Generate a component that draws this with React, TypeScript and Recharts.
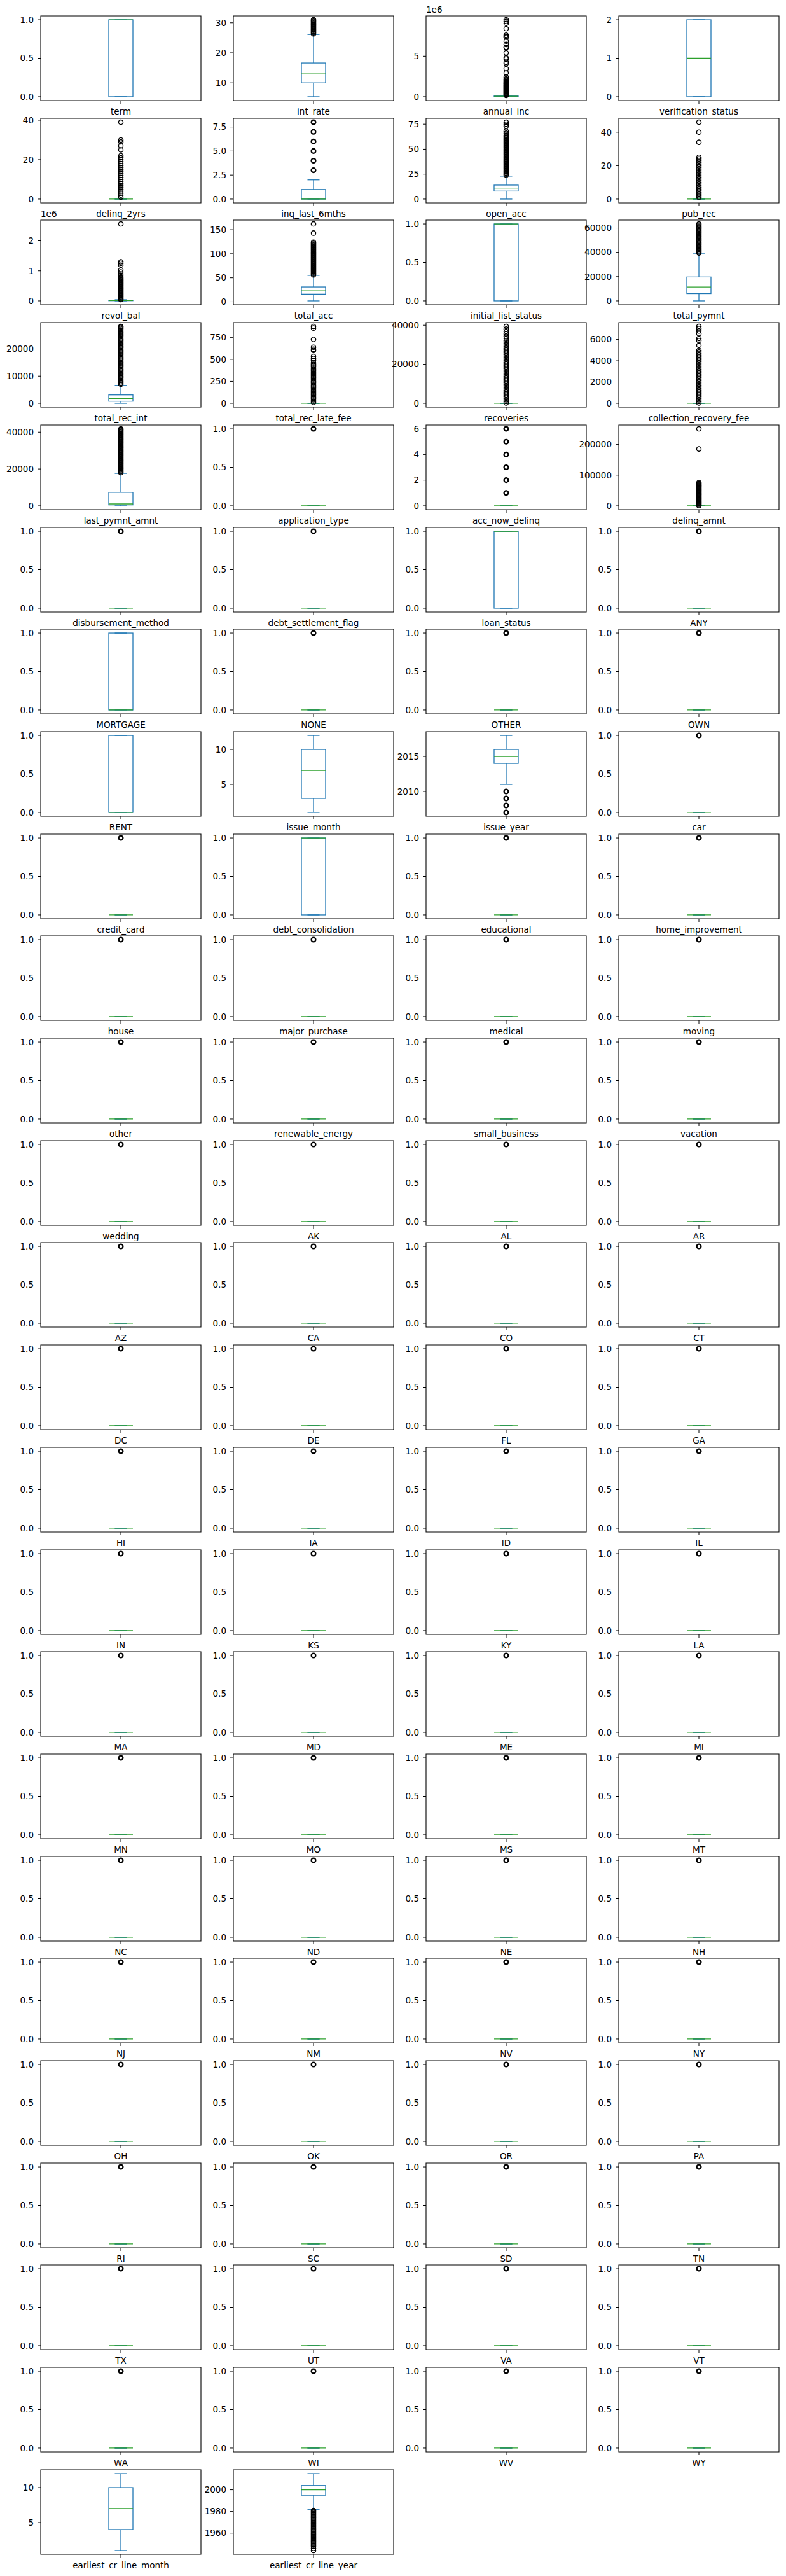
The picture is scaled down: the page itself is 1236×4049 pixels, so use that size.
import React from 'react';
import { ComposedChart, Bar, Scatter, XAxis, YAxis, ReferenceArea } from 'recharts';

// ---------------- DATA ----------------
const names = [
  'term', 'int_rate', 'annual_inc', 'verification_status',
  'delinq_2yrs', 'inq_last_6mths', 'open_acc', 'pub_rec',
  'revol_bal', 'total_acc', 'initial_list_status', 'total_pymnt',
  'total_rec_int', 'total_rec_late_fee', 'recoveries', 'collection_recovery_fee',
  'last_pymnt_amnt', 'application_type', 'acc_now_delinq', 'delinq_amnt',
  'disbursement_method', 'debt_settlement_flag', 'loan_status', 'ANY',
  'MORTGAGE', 'NONE', 'OTHER', 'OWN',
  'RENT', 'issue_month', 'issue_year', 'car',
  'credit_card', 'debt_consolidation', 'educational', 'home_improvement',
  'house', 'major_purchase', 'medical', 'moving',
  'other', 'renewable_energy', 'small_business', 'vacation',
  'wedding', 'AK', 'AL', 'AR',
  'AZ', 'CA', 'CO', 'CT',
  'DC', 'DE', 'FL', 'GA',
  'HI', 'IA', 'ID', 'IL',
  'IN', 'KS', 'KY', 'LA',
  'MA', 'MD', 'ME', 'MI',
  'MN', 'MO', 'MS', 'MT',
  'NC', 'ND', 'NE', 'NH',
  'NJ', 'NM', 'NV', 'NY',
  'OH', 'OK', 'OR', 'PA',
  'RI', 'SC', 'SD', 'TN',
  'TX', 'UT', 'VA', 'VT',
  'WA', 'WI', 'WV', 'WY',
  'earliest_cr_line_month', 'earliest_cr_line_year',
];

// box stats: [lower whisker, Q1, median, Q3, upper whisker]
const rareBox = [0, 0, 0, 0, 0];
const rareOut = [1];
const unitTicks = [0, 0.5, 1];

const termBox = [0, 0, 1, 1, 1];
const intRateBox = [5.4, 10.0, 13.0, 16.6, 26.1];
const intRateOut = [26.3, 26.6, 26.9, 27.2, 27.5, 27.8, 28.1, 28.4, 28.7, 29.0, 29.3, 29.6, 29.9, 30.2, 30.5, 30.8, 31.0];
const annualIncBox = [0, 45000, 65000, 90000, 157000];
const annualIncOut = [160000, 230000, 300000, 370000, 440000, 510000, 580000, 650000, 720000, 790000, 860000, 930000, 1000000, 1070000, 1140000, 1210000, 1280000, 1350000, 1420000, 1500000, 1580000, 1650000, 1730000, 1800000, 1900000, 2000000, 2100000, 2200000, 2420000, 2940000, 3460000, 4100000, 4250000, 4650000, 4800000, 5420000, 6050000, 6100000, 6450000, 6850000, 7350000, 7450000, 7600000, 8400000, 9050000, 9300000, 9500000];
const verificationBox = [0, 0, 1, 2, 2];
const delinq2yrsOut = [1, 2, 3, 4, 5, 6, 7, 8, 9, 10, 11, 12, 13, 14, 15, 16, 17, 18, 19, 20, 21, 22, 25, 27, 29, 30, 39];
const inqBox = [0, 0, 0, 1, 2];
const inqOut = [3, 4, 5, 6, 7, 8];
const openAccBox = [0, 8, 11, 14, 23];
const openAccOut = [24, 25, 26, 27, 28, 29, 30, 31, 32, 33, 34, 35, 36, 37, 38, 39, 40, 41, 42, 43, 44, 45, 46, 47, 48, 49, 50, 51, 52, 53, 54, 55, 56, 57, 58, 59, 60, 61, 62, 63, 64, 66, 68, 73, 75, 77];
const pubRecOut = [1, 2, 3, 4, 5, 6, 7, 8, 9, 10, 11, 12, 13, 14, 15, 16, 17, 18, 19, 20, 21, 22, 23, 24, 25, 34, 40, 46];
const revolBalBox = [0, 6000, 11000, 20000, 41000];
const revolBalOut = [42000, 70000, 100000, 130000, 160000, 190000, 220000, 250000, 280000, 310000, 340000, 370000, 400000, 430000, 460000, 490000, 520000, 550000, 580000, 610000, 640000, 670000, 700000, 730000, 760000, 800000, 850000, 900000, 960000, 1030000, 1190000, 1250000, 1300000, 2560000];
const totalAccBox = [2, 16, 23, 31, 55];
const totalAccOut = [56, 58, 60, 62, 64, 66, 68, 70, 72, 74, 76, 78, 80, 82, 84, 86, 88, 90, 92, 94, 96, 98, 100, 102, 104, 106, 108, 110, 112, 114, 116, 118, 120, 122, 124, 143, 162];
const totalPymntBox = [0, 6000, 11400, 19700, 38800];
const totalPymntOut = [39500, 40500, 41500, 42500, 43500, 44500, 45500, 46500, 47500, 48500, 49500, 50500, 51500, 52500, 53500, 54500, 55500, 56500, 57500, 58500, 59500, 60500, 61500, 62500, 63400];
const totalRecIntBox = [0, 780, 1780, 3100, 6600];
const totalRecIntOut = [7000, 7500, 8000, 8500, 9000, 9500, 10000, 10500, 11000, 11500, 12000, 12500, 13000, 13500, 14000, 14500, 15000, 15500, 16000, 16500, 17000, 17500, 18000, 18500, 19000, 19500, 20000, 20500, 21000, 21500, 22000, 22500, 23000, 23500, 24000, 24500, 25000, 25500, 26000, 26500, 27000, 27500, 28000, 28300];
const lateFeeOut = [10, 25, 40, 55, 70, 85, 100, 115, 130, 145, 160, 175, 190, 205, 220, 235, 250, 265, 280, 295, 310, 325, 340, 355, 370, 385, 400, 415, 430, 445, 460, 490, 510, 535, 602, 616, 638, 727, 856, 875];
const recoveriesOut = [200, 1000, 1800, 2600, 3400, 4200, 5000, 5800, 6600, 7400, 8200, 9000, 9800, 10600, 11400, 12200, 13000, 13800, 14600, 15400, 16200, 17000, 17800, 18600, 19400, 20200, 21000, 21800, 22600, 23400, 24200, 25000, 25800, 26600, 27400, 28200, 29000, 29800, 30600, 31400, 32200, 33300, 34400, 35600, 36800, 38000, 39400];
const collFeeOut = [30, 180, 330, 480, 630, 780, 930, 1080, 1230, 1380, 1530, 1680, 1830, 1980, 2130, 2280, 2430, 2580, 2730, 2880, 3030, 3180, 3330, 3480, 3630, 3780, 3930, 4080, 4230, 4380, 4530, 4680, 4830, 4980, 5450, 5900, 6100, 6550, 6800, 7030, 7230];
const lastPymntBox = [0, 460, 1030, 7300, 17600];
const lastPymntOut = [18000, 18500, 19000, 19500, 20000, 20500, 21000, 21500, 22000, 22500, 23000, 23500, 24000, 24500, 25000, 25500, 26000, 26500, 27000, 27500, 28000, 28500, 29000, 29500, 30000, 30500, 31000, 31500, 32000, 32500, 33000, 33500, 34000, 34500, 35000, 35500, 36000, 36500, 37000, 37500, 38000, 38500, 39000, 39500, 40000, 40500, 41000, 41500, 41800];
const accNowDelinqOut = [1, 2, 3, 4, 5, 6];
const delinqAmntOut = [500, 3000, 5500, 8000, 10500, 13000, 15500, 18000, 20500, 23000, 25500, 28000, 30500, 33000, 35500, 38000, 40500, 43000, 45500, 48000, 50500, 53000, 55500, 58000, 60500, 63000, 65500, 68000, 70500, 73000, 75500, 185500, 251000];
const highBinaryBox = [0, 0, 1, 1, 1];
const lowBinaryBox = [0, 0, 0, 1, 1];
const issueMonthBox = [1, 3, 7, 10, 12];
const issueYearBox = [2011, 2014, 2015, 2016, 2018];
const issueYearOut = [2007, 2008, 2009, 2010];
const crMonthBox = [1, 4, 7, 10, 12];
const crYearBox = [1982, 1995, 2000, 2004, 2015];
const crYearOut = [1944, 1946, 1948, 1949, 1950, 1951, 1952, 1953, 1954, 1955, 1956, 1957, 1958, 1959, 1960, 1961, 1962, 1963, 1964, 1965, 1966, 1967, 1968, 1969, 1970, 1971, 1972, 1973, 1974, 1975, 1976, 1977, 1978, 1979, 1980, 1981];

const boxByName: Record<string, number[]> = {
  term: termBox, int_rate: intRateBox, annual_inc: annualIncBox, verification_status: verificationBox,
  inq_last_6mths: inqBox, open_acc: openAccBox, revol_bal: revolBalBox, total_acc: totalAccBox,
  initial_list_status: highBinaryBox, total_pymnt: totalPymntBox, total_rec_int: totalRecIntBox,
  last_pymnt_amnt: lastPymntBox, loan_status: highBinaryBox, MORTGAGE: lowBinaryBox, RENT: lowBinaryBox,
  issue_month: issueMonthBox, issue_year: issueYearBox, debt_consolidation: highBinaryBox,
  earliest_cr_line_month: crMonthBox, earliest_cr_line_year: crYearBox,
};
const outByName: Record<string, number[]> = {
  term: [], int_rate: intRateOut, annual_inc: annualIncOut, verification_status: [],
  delinq_2yrs: delinq2yrsOut, inq_last_6mths: inqOut, open_acc: openAccOut, pub_rec: pubRecOut,
  revol_bal: revolBalOut, total_acc: totalAccOut, initial_list_status: [], total_pymnt: totalPymntOut,
  total_rec_int: totalRecIntOut, total_rec_late_fee: lateFeeOut, recoveries: recoveriesOut,
  collection_recovery_fee: collFeeOut, last_pymnt_amnt: lastPymntOut, acc_now_delinq: accNowDelinqOut,
  delinq_amnt: delinqAmntOut, loan_status: [], MORTGAGE: [], RENT: [], issue_month: [],
  issue_year: issueYearOut, debt_consolidation: [], earliest_cr_line_month: [], earliest_cr_line_year: crYearOut,
};
const ticksByName: Record<string, number[]> = {
  int_rate: [10, 20, 30], annual_inc: [0, 5000000], verification_status: [0, 1, 2],
  delinq_2yrs: [0, 20, 40], inq_last_6mths: [0, 2.5, 5, 7.5], open_acc: [0, 25, 50, 75], pub_rec: [0, 20, 40],
  revol_bal: [0, 1000000, 2000000], total_acc: [0, 50, 100, 150], total_pymnt: [0, 20000, 40000, 60000],
  total_rec_int: [0, 10000, 20000], total_rec_late_fee: [0, 250, 500, 750], recoveries: [0, 20000, 40000],
  collection_recovery_fee: [0, 2000, 4000, 6000], last_pymnt_amnt: [0, 20000, 40000],
  acc_now_delinq: [0, 2, 4, 6], delinq_amnt: [0, 100000, 200000], issue_month: [5, 10],
  issue_year: [2010, 2015], earliest_cr_line_month: [5, 10], earliest_cr_line_year: [1960, 1980, 2000],
};
const offsetByName: Record<string, number> = { annual_inc: 1000000, revol_bal: 1000000 };
const offsetLabel = '1e6';

// ---------------- LAYOUT / STYLE ----------------
const C0 = '#1f77b4';
const MED = '#2ca02c';
const FONT = 'DejaVu Sans';
const FS = 13.5;
const COL_LEFT = [64, 367, 670, 973];
const PLOT_W = 252;
const PLOT_H = 133;
const ROW0 = 25;
const ROW_PITCH = 160.7;
const YAXIS_W = 64;
const TOP_M = 12;
const XAXIS_H = 34;
const RIGHT_M = 4;
const BOX_W = 38;
const CAP_HALF = 9.5;
// panels whose flier markers are drawn heavier (many coinciding points)
const heavyFlierPanels = new Set(['inq_last_6mths', 'acc_now_delinq', 'issue_year']);

const BoxShape = (p: any) => {
  const top = Math.min(p.y, p.y + p.height);
  const h = Math.abs(p.height);
  if (!(h > 0)) return <g />;
  return <rect x={p.x} y={top} width={p.width} height={h} fill="none" stroke={C0} strokeWidth={1.3} />;
};
const LowWhisker = (p: any) => {
  const cx = p.x + p.width / 2;
  const top = Math.min(p.y, p.y + p.height);
  const bot = Math.max(p.y, p.y + p.height);
  return (
    <g>
      <line x1={cx} x2={cx} y1={top} y2={bot} stroke={C0} strokeWidth={1.3} />
      <line x1={cx - CAP_HALF} x2={cx + CAP_HALF} y1={bot} y2={bot} stroke={C0} strokeWidth={1.3} />
    </g>
  );
};
const HighWhisker = (p: any) => {
  const cx = p.x + p.width / 2;
  const top = Math.min(p.y, p.y + p.height);
  const bot = Math.max(p.y, p.y + p.height);
  return (
    <g>
      <line x1={cx} x2={cx} y1={top} y2={bot} stroke={C0} strokeWidth={1.3} />
      <line x1={cx - CAP_HALF} x2={cx + CAP_HALF} y1={top} y2={top} stroke={C0} strokeWidth={1.3} />
    </g>
  );
};
const MedianShape = (p: any) => (
  <line x1={p.cx - BOX_W / 2} x2={p.cx + BOX_W / 2} y1={p.cy} y2={p.cy} stroke={MED} strokeWidth={1.3} />
);
const FlierShape = (p: any) => (
  <circle cx={p.cx} cy={p.cy} r={3.6} fill="none" stroke="#000" strokeWidth={1.4} />
);
const HeavyFlierShape = (p: any) => (
  <circle cx={p.cx} cy={p.cy} r={3.4} fill="none" stroke="#000" strokeWidth={2.3} />
);

function BoxPanel({ name, left, top }: { name: string; left: number; top: number }) {
  const isRare = !(name in outByName);
  const box = boxByName[name] ?? rareBox;
  const out = outByName[name] ?? rareOut;
  const ticks = ticksByName[name] ?? unitTicks;
  const scale = offsetByName[name] ?? 1;
  const all = [...box, ...out];
  const mn = Math.min(...all);
  const mx = Math.max(...all);
  const pad = (mx - mn) * 0.05 || 0.05;
  const domain: [number, number] = [mn - pad, mx + pad];
  const [wlo, q1, med, q3, whi] = box;
  const data = [{ name, lowW: [wlo, q1], boxR: [q1, q3], highW: [q3, whi] }];
  const medData = [{ name, v: med }];
  const outData = out.map((v) => ({ name, v }));
  const dec = ticks.some((t) => !Number.isInteger(t / scale));
  const fmt = (t: number) => (dec ? (t / scale).toFixed(1) : String(Math.round(t / scale)));
  const tickStyle = { fill: '#000', fontSize: FS, fontFamily: FONT };
  const w = YAXIS_W + PLOT_W + RIGHT_M;
  const h = TOP_M + PLOT_H + XAXIS_H;
  const flier = isRare || heavyFlierPanels.has(name) ? HeavyFlierShape : FlierShape;
  return (
    <div style={{ position: 'absolute', left: left - YAXIS_W, top: top - TOP_M, width: w, height: h }}>
      <ComposedChart width={w} height={h} data={data} margin={{ top: TOP_M, right: RIGHT_M, bottom: 0, left: 0 }}>
        <XAxis
          xAxisId="main"
          dataKey="name"
          type="category"
          allowDuplicatedCategory={false}
          interval={0}
          height={XAXIS_H}
          axisLine={false}
          tickLine={{ stroke: '#000' }}
          tickSize={5}
          tickMargin={7}
          tick={tickStyle}
        />
        <XAxis xAxisId="bx" dataKey="name" type="category" allowDuplicatedCategory={false} height={0} hide />
        <XAxis xAxisId="lw" dataKey="name" type="category" allowDuplicatedCategory={false} height={0} hide />
        <XAxis xAxisId="hw" dataKey="name" type="category" allowDuplicatedCategory={false} height={0} hide />
        <YAxis
          type="number"
          domain={domain}
          allowDataOverflow
          ticks={ticks}
          interval={0}
          tickFormatter={fmt}
          width={YAXIS_W}
          axisLine={false}
          tickLine={{ stroke: '#000' }}
          tickSize={5}
          tickMargin={6}
          tick={tickStyle}
        />
        <Bar xAxisId="lw" dataKey="lowW" barSize={BOX_W} shape={LowWhisker} isAnimationActive={false} />
        <Bar xAxisId="hw" dataKey="highW" barSize={BOX_W} shape={HighWhisker} isAnimationActive={false} />
        <Bar xAxisId="bx" dataKey="boxR" barSize={BOX_W} shape={BoxShape} isAnimationActive={false} />
        <Scatter xAxisId="main" data={medData} dataKey="v" shape={MedianShape} isAnimationActive={false} />
        <Scatter xAxisId="main" data={outData} dataKey="v" shape={flier} isAnimationActive={false} />
        <ReferenceArea
          xAxisId="main"
          y1={domain[0]}
          y2={domain[1]}
          fill="none"
          fillOpacity={0}
          stroke="#000"
          strokeWidth={1.1}
          ifOverflow="visible"
        />
      </ComposedChart>
      {scale !== 1 && (
        <div
          style={{
            position: 'absolute',
            left: YAXIS_W,
            top: TOP_M - 16,
            fontFamily: FONT,
            fontSize: FS,
            lineHeight: 1,
            color: '#000',
          }}
        >
          {offsetLabel}
        </div>
      )}
    </div>
  );
}

export default function App() {
  return (
    <div
      style={{
        position: 'absolute',
        left: 0,
        top: 0,
        width: 1236,
        height: 4049,
        background: '#fff',
        overflow: 'hidden',
      }}
    >
      {names.map((n, i) => {
        const r = Math.floor(i / 4);
        const c = i % 4;
        return <BoxPanel key={n} name={n} left={COL_LEFT[c]} top={Math.round(ROW0 + r * ROW_PITCH)} />;
      })}
    </div>
  );
}
